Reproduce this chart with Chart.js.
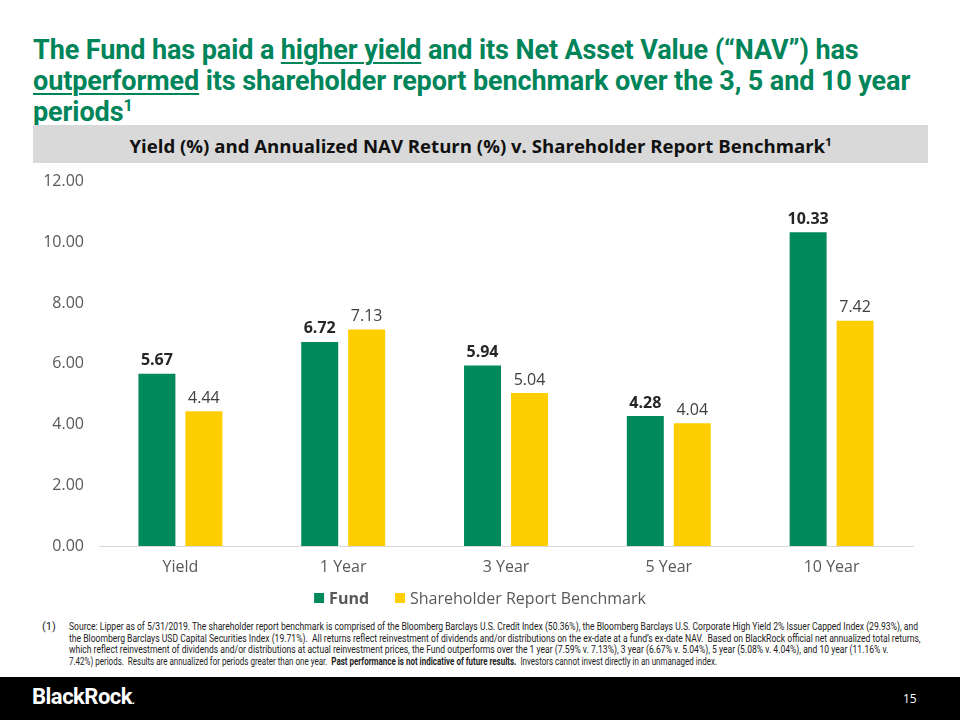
<!DOCTYPE html>
<html>
<head>
<meta charset="utf-8">
<script src="https://cdn.jsdelivr.net/npm/chart.js@4.4.1/dist/chart.umd.min.js"></script>
<style>
    html, body { margin: 0; padding: 0; background: #fff; }
    body { width: 960px; height: 720px; position: relative; overflow: hidden; font-family: 'Open Sans', sans-serif; }
    .title {
        position: absolute; left: 33px; top: 35px; width: 920px;
        font-family: Roboto, sans-serif; font-weight: 700; font-size: 27px; line-height: 31px;
        color: #00845a; letter-spacing: -0.1px;
    }
    .title u { text-decoration-thickness: 2px; text-underline-offset: 3px; }
    .title sup, .band sup { font-size: 0.6em; line-height: 0; }
    .band {
        position: absolute; left: 33px; top: 125px; width: 895px; height: 38px;
        background: #d9d9d9; text-align: center; line-height: 42px;
        font-family: 'Open Sans', sans-serif; font-weight: 700; font-size: 18.6px; color: #111;
    }
    #chart-wrap { position: absolute; left: 0; top: 165px; width: 960px; height: 450px; }
    .note {
        position: absolute; left: 40px; top: 621px; width: 900px;
        font-family: Roboto, sans-serif; font-size: 10px; line-height: 11.7px; color: #222;
    }
    .note .num { position: absolute; left: 2px; top: 0; font-size: 11px; }
    .note .txt { position: absolute; left: 29px; top: 0; }
    .note .line { display: block; white-space: nowrap; transform-origin: 0 0; width: max-content; }
    .footer { position: absolute; left: 0; top: 677px; width: 960px; height: 43px; background: #000; }
    .logo { position: absolute; left: 32px; top: 7px; color: #fff; font-family: Roboto, sans-serif; font-weight: 700; font-size: 22px; letter-spacing: -0.5px; }
    .logo span { font-size: 10px; }
    .page { position: absolute; left: 903px; top: 13px; color: #fff; font-size: 12px; }
</style>
</head>
<body>
<div class="title">The Fund has paid a <u>higher yield</u> and its Net Asset Value (“NAV”) has <u>outperformed</u> its shareholder report benchmark over the 3, 5 and 10 year periods<sup>1</sup></div>
<div class="band">Yield (%) and Annualized NAV Return (%) v. Shareholder Report Benchmark<sup>1</sup></div>
<div id="chart-wrap"><canvas id="nav-chart"></canvas></div>
<div class="note">
    <span class="num">(1)</span>
    <div class="txt">
        <span class="line">Source: Lipper as of 5/31/2019. The shareholder report benchmark is comprised of the Bloomberg Barclays U.S. Credit Index (50.36%), the Bloomberg Barclays U.S. Corporate High Yield 2% Issuer Capped Index (29.93%), and</span>
        <span class="line">the Bloomberg Barclays USD Capital Securities Index (19.71%).&nbsp; All returns reflect reinvestment of dividends and/or distributions on the ex-date at a fund’s ex-date NAV.&nbsp; Based on BlackRock official net annualized total returns,</span>
        <span class="line">which reflect reinvestment of dividends and/or distributions at actual reinvestment prices, the Fund outperforms over the 1 year (7.59% v. 7.13%), 3 year (6.67% v. 5.04%), 5 year (5.08% v. 4.04%), and 10 year (11.16% v.</span>
        <span class="line">7.42%) periods.&nbsp; Results are annualized for periods greater than one year.&nbsp; <b>Past performance is not indicative of future results.</b>&nbsp; Investors cannot invest directly in an unmanaged index.</span>
    </div>
</div>
<div class="footer">
    <div class="logo">BlackRock<span>.</span></div>
    <div class="page">15</div>
</div>
<script>
const categories = ['Yield', '1 Year', '3 Year', '5 Year', '10 Year'];
const fundValues = [5.67, 6.72, 5.94, 4.28, 10.33];
const benchmarkValues = [4.44, 7.13, 5.04, 4.04, 7.42];
const yTicks = [0, 2, 4, 6, 8, 10, 12];

const GREEN = '#00895a';
const YELLOW = '#ffce00';
const FONT = "'Open Sans', sans-serif";

// squeeze the footnote so the lines span the same width as on the slide
const noteLines = document.querySelectorAll('.note .line');
const squeeze = 849 / noteLines[0].getBoundingClientRect().width;
noteLines.forEach((el, i) => {
    const k = i === 3 ? 648 / el.getBoundingClientRect().width : squeeze;
    el.style.transform = `scaleX(${k})`;
});

const valueLabels = {
    id: 'valueLabels',
    afterDatasetsDraw(chart) {
        const { ctx } = chart;
        chart.data.datasets.forEach((ds, i) => {
            const meta = chart.getDatasetMeta(i);
            ctx.save();
            ctx.font = (i === 0 ? '700 ' : '400 ') + '16px ' + FONT;
            ctx.fillStyle = i === 0 ? '#262626' : '#404040';
            ctx.textAlign = 'center';
            ctx.textBaseline = 'bottom';
            meta.data.forEach((bar, j) => {
                ctx.fillText(ds.data[j].toFixed(2), bar.x, bar.y - 5);
            });
            ctx.restore();
        });
    },
};

const customLegend = {
    id: 'customLegend',
    afterDraw(chart) {
        const { ctx } = chart;
        const y = 433;
        const items = chart.data.datasets.map((ds, i) => ({
            text: ds.label,
            color: ds.backgroundColor,
            font: (i === 0 ? '700 ' : '400 ') + '16px ' + FONT,
        }));
        const box = 10, gap = 5, spacing = 26;
        let total = 0;
        ctx.save();
        items.forEach((it) => {
            ctx.font = it.font;
            it.w = box + gap + ctx.measureText(it.text).width;
            total += it.w;
        });
        total += spacing * (items.length - 1);
        let x = chart.width / 2 - total / 2;
        ctx.textBaseline = 'middle';
        items.forEach((it) => {
            ctx.fillStyle = it.color;
            ctx.fillRect(x, y - box / 2, box, box);
            ctx.font = it.font;
            ctx.fillStyle = '#595959';
            ctx.fillText(it.text, x + box + gap, y + 1);
            x += it.w + spacing;
        });
        ctx.restore();
    },
};

new Chart(document.getElementById('nav-chart'), {
    type: 'bar',
    data: {
        labels: categories,
        datasets: [
            {
                label: 'Fund',
                data: fundValues,
                backgroundColor: GREEN,
                categoryPercentage: 0.577,
                barPercentage: 0.787,
            },
            {
                label: 'Shareholder Report Benchmark',
                data: benchmarkValues,
                backgroundColor: YELLOW,
                categoryPercentage: 0.577,
                barPercentage: 0.787,
            },
        ],
    },
    options: {
        responsive: true,
        maintainAspectRatio: false,
        animation: false,
        layout: { padding: { top: 8, right: 47, left: 0, bottom: 0 } },
        plugins: {
            legend: { display: false },
            tooltip: { enabled: false },
        },
        scales: {
            x: {
                grid: { display: false },
                border: { color: '#d9d9d9', width: 1 },
                ticks: { color: '#595959', font: { family: FONT, size: 16 }, padding: 4 },
                afterFit: (scale) => { scale.height = 69; },
            },
            y: {
                min: 0,
                max: 12,
                grid: { display: false },
                border: { display: false },
                afterBuildTicks: (scale) => { scale.ticks = yTicks.map((v) => ({ value: v })); },
                afterFit: (scale) => { scale.width = 99; },
                ticks: {
                    color: '#595959',
                    font: { family: FONT, size: 16 },
                    padding: 7,
                    callback: (v) => Number(v).toFixed(2),
                },
            },
        },
    },
    plugins: [valueLabels, customLegend],
});
</script>
</body>
</html>
